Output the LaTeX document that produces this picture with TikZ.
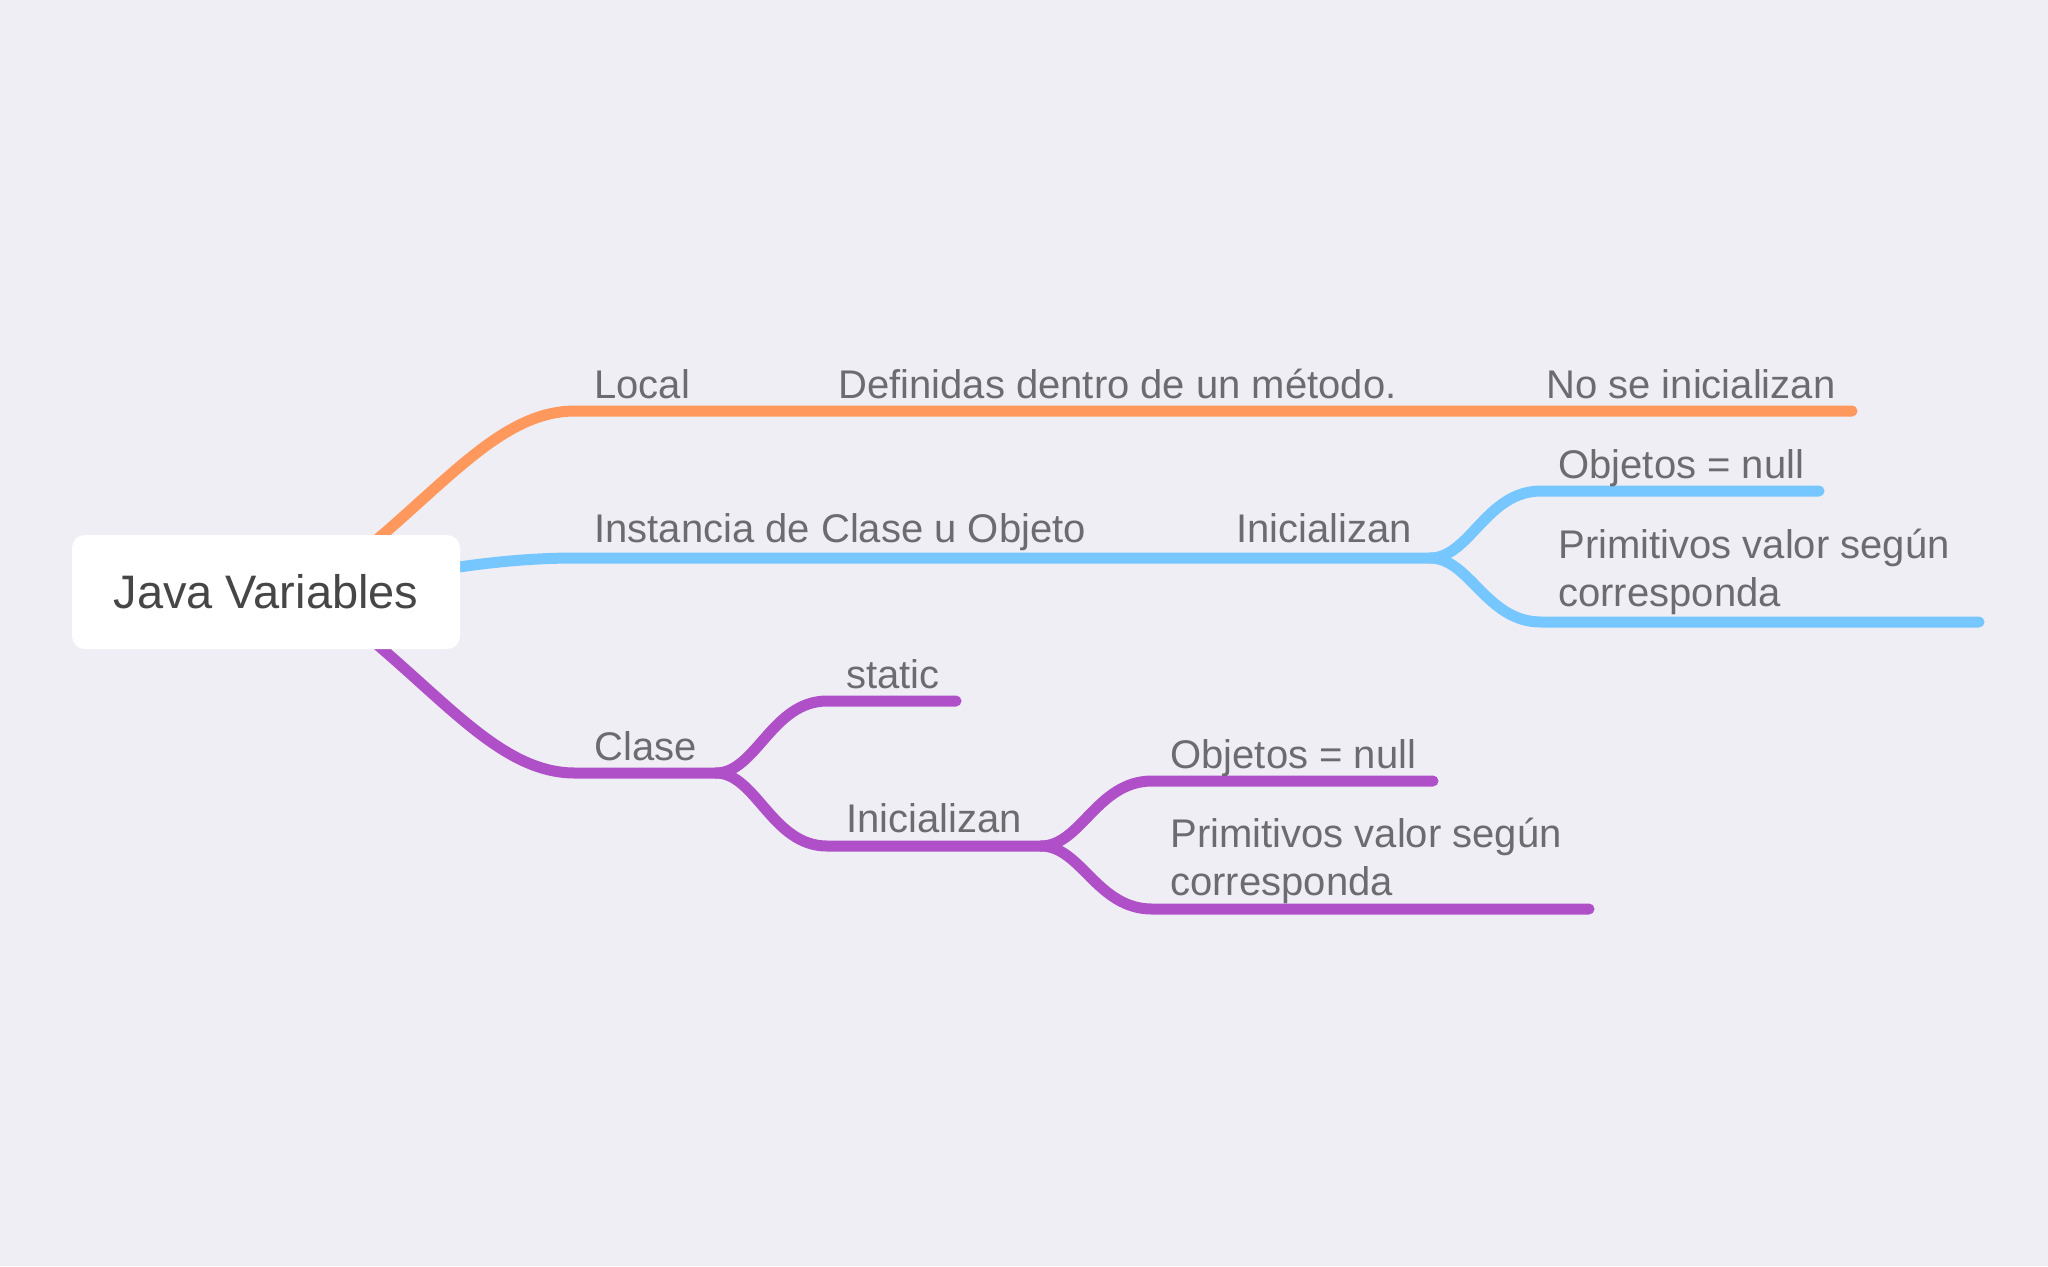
\documentclass[tikz,border=0pt]{standalone}
\usepackage{fontspec}
\setmainfont{Liberation Sans}
\definecolor{bgcol}{RGB}{239,238,244}
\definecolor{orangecol}{RGB}{255,152,92}
\definecolor{bluecol}{RGB}{118,199,255}
\definecolor{purplecol}{RGB}{176,80,200}
\definecolor{topiccol}{RGB}{108,108,112}
\definecolor{rootcol}{RGB}{70,70,70}
\tikzset{
  topic/.style={anchor=base west, inner sep=0pt, text=topiccol, align=left,
    font=\fontsize{20}{24}\selectfont},
  branch/.style={line width=5.5pt, line cap=round, line join=round},
}

\begin{document}
\begin{tikzpicture}[x=0.5pt, y=-0.5pt]
  \fill[bgcol] (0,0) rectangle (2048,1266);
  \useasboundingbox (0,0) rectangle (2048,1266); % page = reference size

  \coordinate (hub) at (310,592);

  % Local
  \coordinate (local-s) at (575,411);
  \coordinate (local-e) at (1852,411);
  \draw[branch, orangecol] (hub) .. controls (430,508) and (490,411) .. (local-s) -- (local-e);
  \node[topic] (local) at (594,398) {Local};
  \node[topic] (definidas) at (838,398) {Definidas dentro de un método.};
  \node[topic] (nose) at (1546,398) {No se inicializan};

  % Instancia
  \coordinate (inst-s) at (575,558);
  \coordinate (inst-j) at (1430,558);
  \draw[branch, bluecol] (hub) .. controls (400,578) and (480,558) .. (inst-s) -- (inst-j);
  \node[topic] (instancia) at (594,542) {Instancia de Clase u Objeto};
  \node[topic] (iniinst) at (1236,542) {Inicializan};
  \foreach \n/\y/\e in {objinst/491/1819, priminst/622/1979} {
    \coordinate (\n-s) at (1541,\y);
    \coordinate (\n-e) at (\e,\y);
    \draw[branch, bluecol] (inst-j) .. controls +(40,0) and +(-55,0) .. (\n-s) -- (\n-e);
  }
  \node[topic] (objinst) at (1558,478) {Objetos = null};
  \node[topic] (priminst) at (1558,606) {Primitivos valor según\\corresponda};

  % Clase
  \coordinate (clase-s) at (575,773);
  \coordinate (clase-j) at (716,773);
  \draw[branch, purplecol] (hub) .. controls (430,676) and (490,773) .. (clase-s) -- (clase-j);
  \node[topic] (clase) at (594,760) {Clase};
  \coordinate (static-s) at (827,701);
  \coordinate (static-e) at (956,701);
  \coordinate (inicl-s) at (827,846);
  \coordinate (inicl-j) at (1041,846);
  \draw[branch, purplecol] (clase-j) .. controls +(40,0) and +(-55,0) .. (static-s) -- (static-e);
  \draw[branch, purplecol] (clase-j) .. controls +(40,0) and +(-55,0) .. (inicl-s) -- (inicl-j);
  \node[topic] (static) at (846,688) {static};
  \node[topic] (inicl) at (846,832) {Inicializan};
  \foreach \n/\y/\e in {objcl/781/1433, primcl/909/1589} {
    \coordinate (\n-s) at (1152,\y);
    \coordinate (\n-e) at (\e,\y);
    \draw[branch, purplecol] (inicl-j) .. controls +(40,0) and +(-55,0) .. (\n-s) -- (\n-e);
  }
  \node[topic] (objcl) at (1170,768) {Objetos = null};
  \node[topic] (primcl) at (1170,895) {Primitivos valor según\\corresponda};

  % root on top of the branch starts
  \node[fill=white, rounded corners=6.5pt, minimum width=194pt, minimum height=57pt,
    text=rootcol, font=\fontsize{23.5}{28}\selectfont] (root) at (266,592) {Java Variables};
\end{tikzpicture}
\end{document}
